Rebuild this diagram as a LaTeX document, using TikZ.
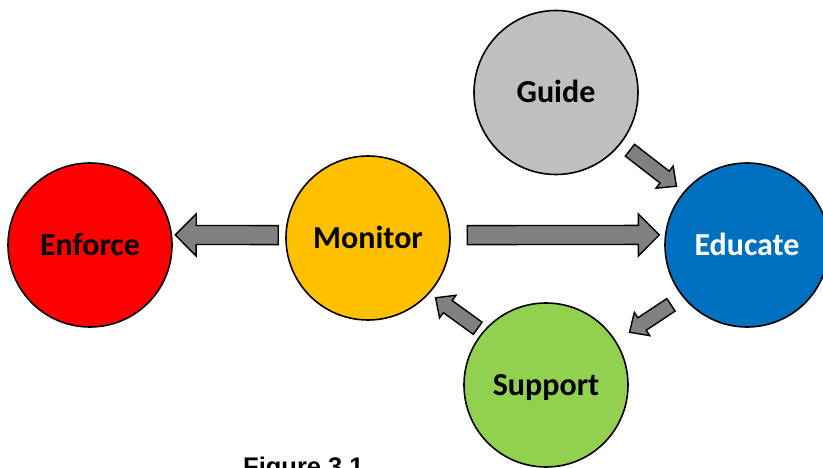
\documentclass[tikz,border=0pt]{standalone}
\usepackage{fontspec}
\setmainfont{Carlito}
\newfontfamily\captionfont{Liberation Sans}
\usepackage{tikz}
\usetikzlibrary{positioning,calc}

\definecolor{enforcered}{RGB}{255,0,0}
\definecolor{monitorgold}{RGB}{255,192,0}
\definecolor{guidegray}{RGB}{191,191,191}
\definecolor{educateblue}{RGB}{0,112,192}
\definecolor{supportgreen}{RGB}{146,208,80}
\definecolor{arrowgray}{RGB}{128,128,128}

% fat arrow from node border #1 to node border #2, gaps #3 and #4
\newcommand{\blockarrow}[4]{%
  \coordinate (s) at ($(#1)!#3!(#2)$);
  \coordinate (t) at ($(#2)!#4!(#1)$);
  \coordinate (hb) at ($(t)!\headlen!(s)$);
  \draw[fatarrow] ($(s)!\shaftw!90:(t)$) -- ($(hb)!\shaftw!-90:(s)$)
    -- ($(hb)!\headw!-90:(s)$) -- (t) -- ($(hb)!\headw!90:(s)$)
    -- ($(hb)!\shaftw!90:(s)$) -- ($(s)!\shaftw!-90:(t)$) -- cycle;
}

\begin{document}
\begin{tikzpicture}[x=1pt, y=-1pt,
    stage/.style={circle, draw, line width=1.6pt, minimum size=164pt, inner sep=0pt,
      font=\fontsize{32}{34}\selectfont\bfseries, text height=20.5pt, text depth=0pt},
    fatarrow/.style={draw=black, line width=1.4pt, fill=arrowgray, line join=miter}
]
\clip (0,0) rectangle (823,468);

% Stages
\node[stage, fill=guidegray] (guide) at (556,92.5) {Guide};
\node[stage, fill=monitorgold] (monitor) at (368,238) {Monitor};
\node[stage, fill=enforcered] (enforce) at (90,245) {Enforce};
\node[stage, fill=educateblue, text=white] (educate) at (747,245) {Educate};
\node[stage, fill=supportgreen] (support) at (546,385) {Support};

% Caption
\node[anchor=base west, inner sep=0pt, font=\captionfont\fontsize{25.5}{27}\selectfont\bfseries]
  (caption) at (243,475) {Figure 3.1};

% Big arrows
\def\shaftw{9.5pt}\def\headw{21pt}\def\headlen{21pt}
\blockarrow{monitor.178}{enforce.7}{7pt}{3pt}
\blockarrow{monitor.2}{educate.173}{16.5pt}{5.5pt}

% Small arrows
\def\shaftw{7.5pt}\def\headw{14pt}\def\headlen{15pt}
\blockarrow{guide.-38}{educate.140}{11pt}{9pt}
\blockarrow{educate.219}{support.32}{14pt}{16pt}
\blockarrow{support.140}{monitor.-42}{6pt}{7.5pt}

\end{tikzpicture}
\end{document}
